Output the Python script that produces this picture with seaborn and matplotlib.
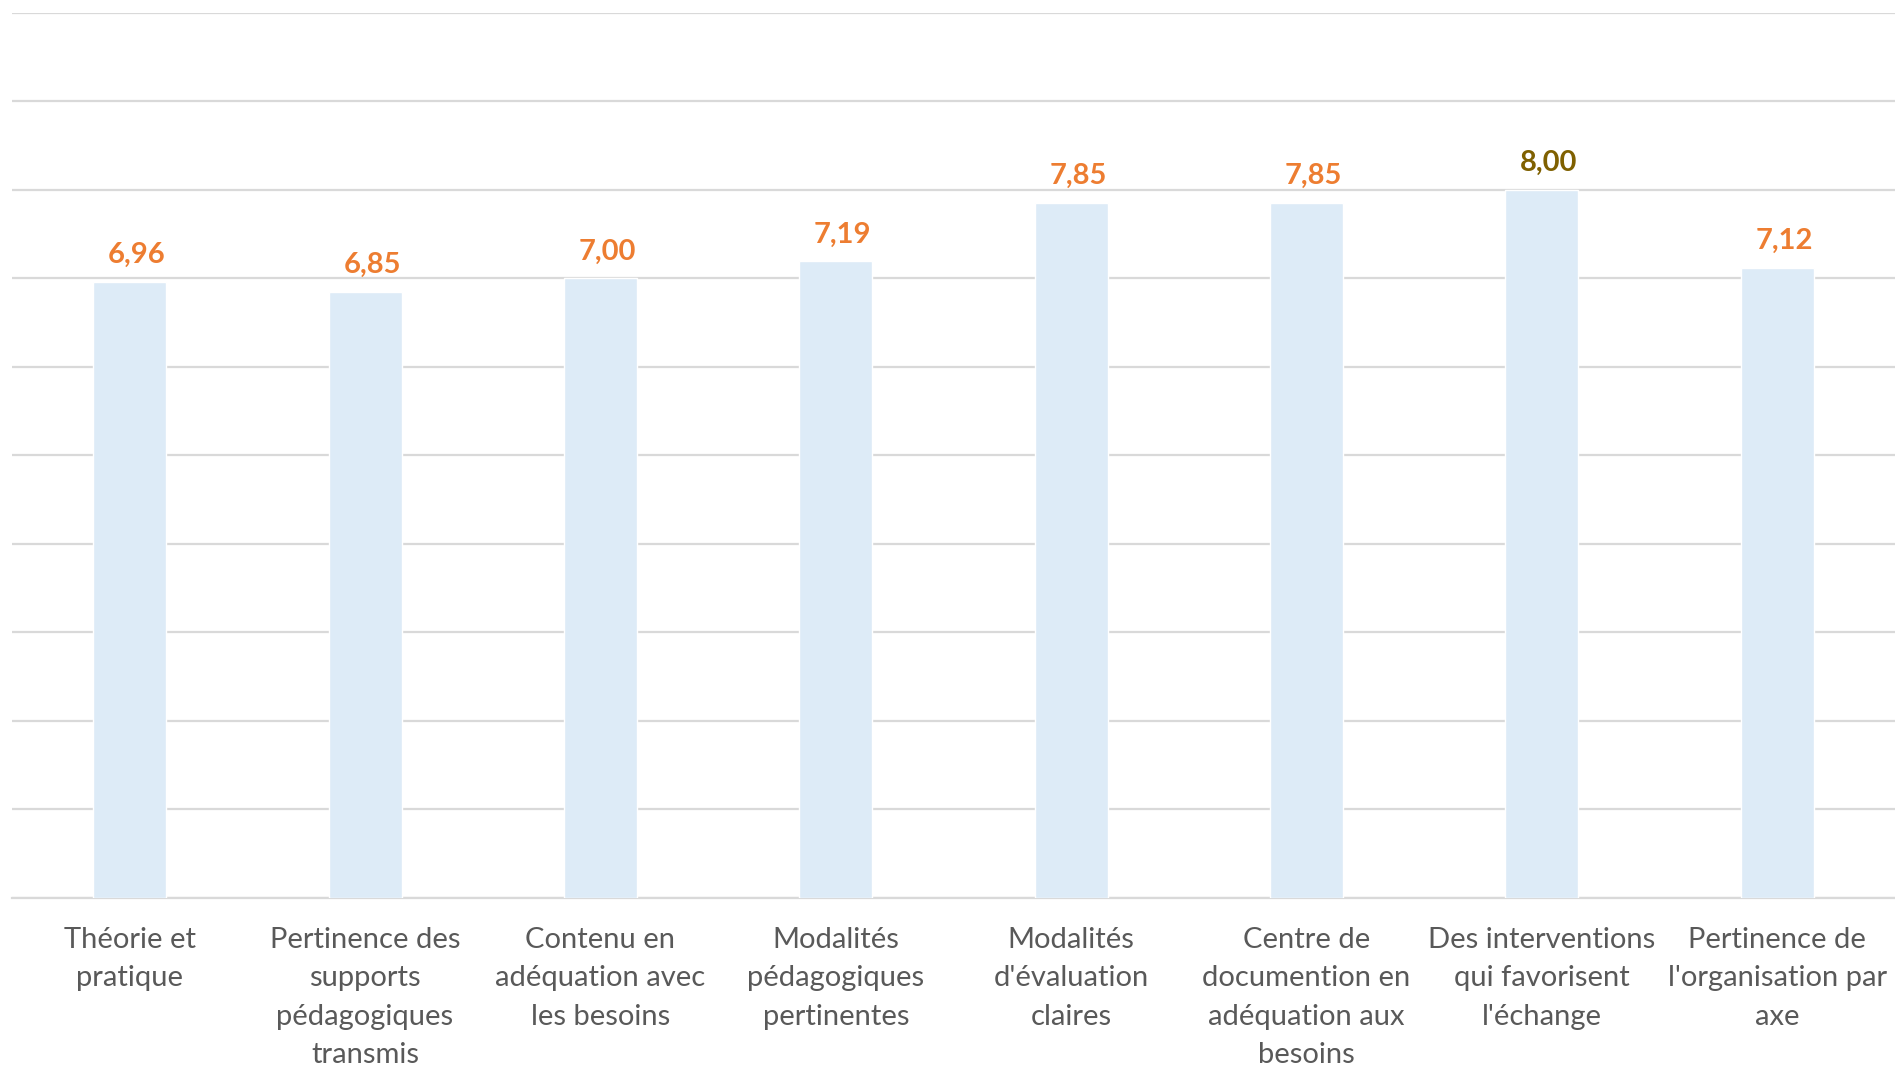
import matplotlib
matplotlib.use("Agg")
import matplotlib.pyplot as plt
import seaborn as sns
import pandas as pd

categories = [
    "Théorie et\npratique",
    "Pertinence des\nsupports\npédagogiques\ntransmis",
    "Contenu en\nadéquation avec\nles besoins",
    "Modalités\npédagogiques\npertinentes",
    "Modalités\nd'évaluation\nclaires",
    "Centre de\ndocumention en\nadéquation aux\nbesoins",
    "Des interventions\nqui favorisent\nl'échange",
    "Pertinence de\nl'organisation par\naxe",
]
values = [6.96, 6.85, 7.00, 7.19, 7.85, 7.85, 8.00, 7.12]
label_colors = ["#ED7D31", "#ED7D31", "#ED7D31", "#ED7D31", "#ED7D31", "#ED7D31", "#7F6000", "#ED7D31"]

sns.set_theme(style="white")
plt.rcParams["font.family"] = ["Lato", "DejaVu Sans"]

df = pd.DataFrame({"cat": categories, "val": values})

fig = plt.figure(figsize=(18.95, 10.71), dpi=100)
ax = fig.add_axes([12 / 1895, 1 - 898 / 1071, 1 - 12 / 1895, (898 - 12.7) / 1071])

sns.barplot(data=df, x="cat", y="val", color="#DDEBF7", saturation=1, width=0.31, ax=ax, zorder=3)

ax.set_ylim(0, 10)
ax.set_xlim(-0.5, len(categories) - 0.5)
ax.set_yticks(range(0, 11))
ax.set_yticklabels([])
ax.tick_params(axis="y", length=0)
ax.tick_params(axis="x", length=0, pad=21, labelsize=21, labelcolor="#595959")
ax.grid(axis="y", color="#D9D9D9", linewidth=1.6, zorder=0)
ax.set_axisbelow(True)
for s in ["top", "right", "left"]:
    ax.spines[s].set_visible(False)
ax.spines["bottom"].set_color("#D9D9D9")
ax.spines["bottom"].set_linewidth(1.6)
ax.set_xlabel("")
ax.set_ylabel("")

for i, (v, c) in enumerate(zip(values, label_colors)):
    ax.annotate(f"{v:.2f}".replace(".", ","), xy=(i, v), xytext=(5, 10),
                textcoords="offset points", ha="center", va="bottom",
                fontsize=21, fontweight="bold", color=c)

for lbl in ax.get_xticklabels():
    lbl.set_linespacing(1.58)

fig.savefig("out.png", dpi=100)
